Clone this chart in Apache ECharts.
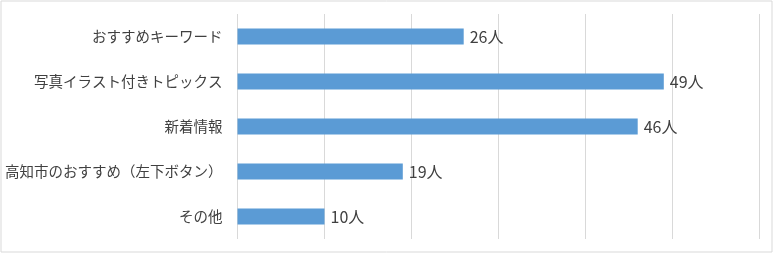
<!DOCTYPE html>
<html><head><meta charset="utf-8">
<script src="https://cdn.jsdelivr.net/npm/echarts@6/dist/echarts.min.js"></script>
<style>html,body{margin:0;padding:0;background:#fff}#c{width:773px;height:254px}</style>
</head><body><div id="c"></div>
<script>
const categories = ['おすすめキーワード','写真イラスト付きトピックス','新着情報','高知市のおすすめ（左下ボタン）','その他'];
const values = [26, 49, 46, 19, 10];
const unit = '人';

const chart = echarts.init(document.getElementById('c'), null, {renderer:'canvas'});
chart.setOption({
  animation: false,
  backgroundColor: '#fff',
  textStyle: {fontFamily: '"Noto Sans CJK JP", "Noto Sans", sans-serif'},
  graphic: [{type:'rect', shape:{x:1, y:1, width:771, height:251}, style:{fill:'none', stroke:'#D9D9D9', lineWidth:1}, silent:true}],
  grid: {left: 237.5, right: 13.5, top: 14, bottom: 15, containLabel: false, outerBoundsMode: 'none'},
  xAxis: {type:'value', min:0, max:60, interval:10,
    axisLabel:{show:false}, axisLine:{show:false}, axisTick:{show:false},
    splitLine:{show:true, lineStyle:{color:'#D9D9D9', width:1}}},
  yAxis: {type:'category', data: categories, inverse:true,
    axisLine:{show:false}, axisTick:{show:false},
    axisLabel:{color:'#404040', fontSize:14.5, margin:15}},
  series: [{type:'bar', data: values, barWidth: 16,
    itemStyle:{color:'#5B9BD5'},
    label:{show:true, position:'right', distance:6, color:'#404040', fontSize:16,
      formatter: p => p.value + unit}}]
});
</script></body></html>
